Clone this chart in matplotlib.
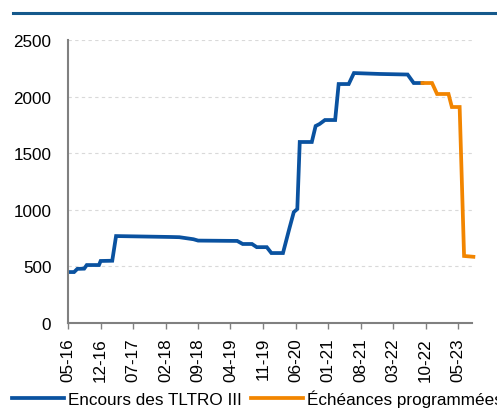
import numpy as np
import pandas as pd
import matplotlib
matplotlib.use("Agg")
import matplotlib.pyplot as plt
import matplotlib.dates as mdates
from matplotlib import font_manager

names = {f.name for f in font_manager.fontManager.ttflist}
print(sorted(n for n in names if 'Liberation' in n or 'DejaVu' in n))
if 'Liberation Sans Narrow' in names:
    plt.rcParams['font.family'] = ['Liberation Sans Narrow', 'DejaVu Sans']
    fs = 14.5
else:
    plt.rcParams['font.family'] = ['Liberation Sans', 'DejaVu Sans']
    fs = 12.3

# encours (Md EUR)
dates_encours = ["2016-05-01", "2016-06-10", "2016-07-01", "2016-08-15", "2016-09-01",
                 "2016-11-20", "2016-12-01", "2017-02-15", "2017-03-12", "2018-03-01",
                 "2018-05-01", "2018-08-01", "2018-09-01", "2019-05-15", "2019-06-20",
                 "2019-08-20", "2019-09-20", "2019-11-25", "2019-12-25", "2020-03-10",
                 "2020-04-20", "2020-05-20", "2020-06-12", "2020-06-28", "2020-09-15",
                 "2020-10-10", "2020-11-05", "2020-12-10", "2021-02-15", "2021-03-10",
                 "2021-05-15", "2021-06-18", "2021-12-05", "2022-06-05", "2022-07-15",
                 "2022-09-10"]
encours = [450, 450, 478, 480, 512,
           512, 548, 550, 768, 760,
           758, 740, 728, 725, 698,
           698, 670, 670, 618, 618,
           830, 980, 1007, 1599, 1599,
           1740, 1758, 1793, 1793, 2111,
           2111, 2208, 2200, 2195, 2120,
           2120]

# echeances programmees
dates_echeances = ["2022-09-10", "2022-11-12", "2022-12-15", "2023-02-28", "2023-03-22",
                   "2023-05-12", "2023-06-10", "2023-08-10"]
echeances = [2120, 2120, 2023, 2023, 1908, 1908, 592, 585]

tick_dates = pd.date_range("2016-05-01", periods=13, freq="7MS")

blue = '#0a52a0'
orange = '#f28500'
grey = '#808080'

fig = plt.figure(figsize=(4.97, 4.10), dpi=100)
ax = fig.add_axes([68/497, 1-324/410, (472-68)/497, (324-41)/410])

ax.plot(pd.to_datetime(dates_encours), encours, color=blue, lw=2.7,
        label="Encours des TLTRO III", solid_joinstyle='miter')
ax.plot(pd.to_datetime(dates_echeances), echeances, color=orange, lw=2.7,
        label="Échéances programmées", clip_on=False, solid_joinstyle='miter')

ax.set_ylim(0, 2500)
ax.set_yticks(np.arange(0, 2501, 500))
ax.set_xlim(pd.Timestamp("2016-05-01"), pd.Timestamp("2023-08-01"))
ax.set_xticks(tick_dates)
ax.xaxis.set_major_formatter(mdates.DateFormatter('%m-%y'))
ax.tick_params(axis='x', rotation=90, length=4, width=1, color=grey, pad=6, labelsize=fs)
ax.tick_params(axis='y', length=0, pad=12, labelsize=fs)

ax.grid(axis='y', color='#d9d9d9', lw=0.8, ls=(0, (3, 3)))
ax.set_axisbelow(True)
for s in ['top', 'right']:
    ax.spines[s].set_visible(False)
for s in ['left', 'bottom']:
    ax.spines[s].set_color(grey)
    ax.spines[s].set_linewidth(1.5)

# trait en haut
fig.add_artist(plt.Line2D([13/497, 1], [1-13.5/410, 1-13.5/410], color='#15598c', lw=2.2))

fig.legend(loc='lower left', bbox_to_anchor=(12/497, 1-408/410), ncol=2, frameon=False,
           fontsize=fs, handlelength=52/(fs*100/72), handletextpad=0.25, columnspacing=0.5,
           borderpad=0, borderaxespad=0)

fig.savefig("out.png", dpi=100)
